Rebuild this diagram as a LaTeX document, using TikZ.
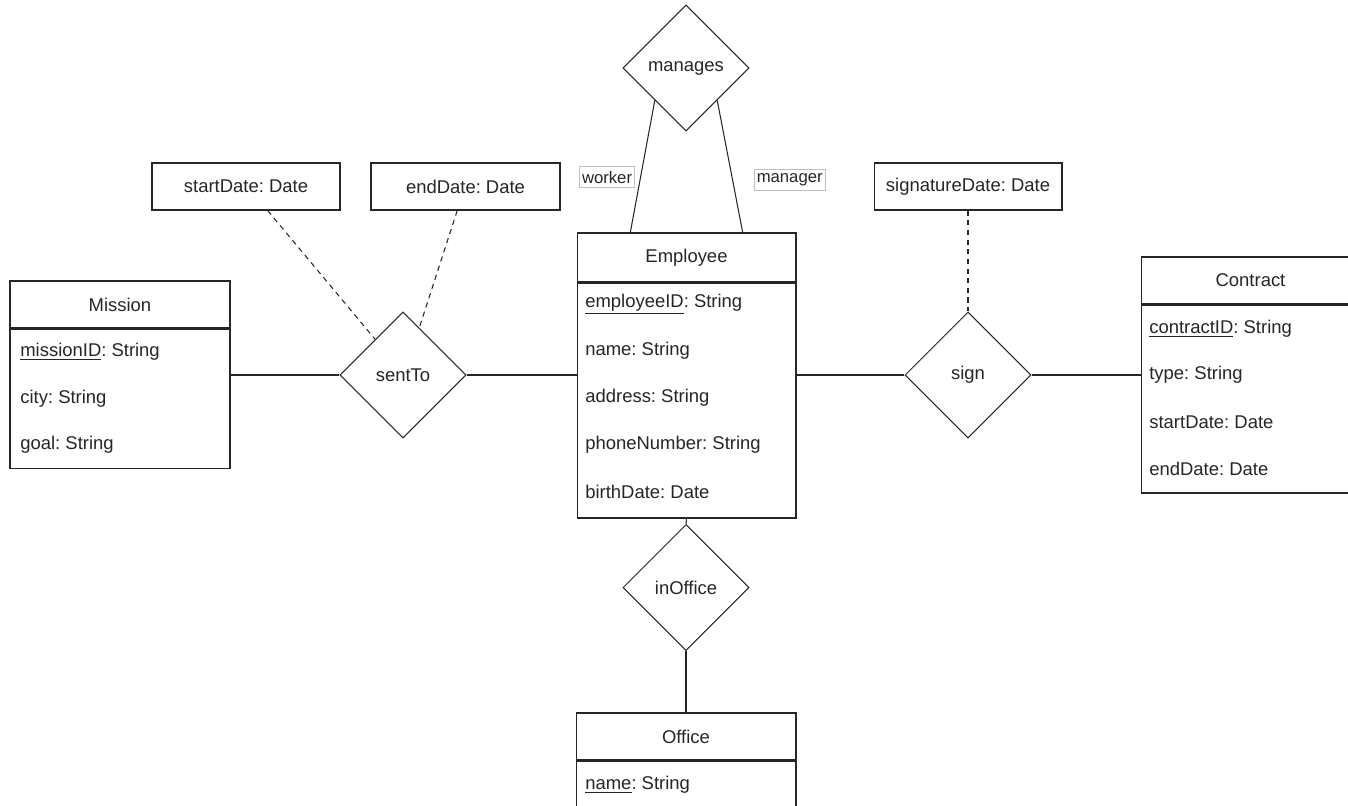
\documentclass[tikz,border=0pt]{standalone}
\usepackage{fontspec}
\setmainfont{Liberation Sans}
\frenchspacing
\usetikzlibrary{positioning,shapes.geometric}

\tikzset{
	erbox/.style={draw=black!85, fill=white, line width=0.6pt, inner sep=0pt, text=black!85, font=\fontsize{10.5}{12.6}\selectfont},
	relation/.style={draw=black!85, diamond, aspect=1, fill=white, line width=0.6pt, inner sep=0pt, minimum width=2.52cm, minimum height=2.52cm, text=black!85, font=\fontsize{10.5}{12.6}\selectfont},
	attr/.style={anchor=west, inner sep=0pt, text=black!85, font=\fontsize{10.5}{12.6}\selectfont},
	rolelabel/.style={draw=black!25, fill=white, inner sep=1.5pt, minimum height=0.42cm, text=black!85, font=\fontsize{9.5}{11}\selectfont},
	wire/.style={draw=black!85, line width=0.6pt},
	attrlink/.style={draw=black!85, line width=0.6pt, dash pattern=on 3pt off 2.5pt},
}

\begin{document}
\begin{tikzpicture}[x=0.02cm, y=-0.02cm]
		\useasboundingbox (0, 0) rectangle (1348, 805);
		% Entities, relations and links:
		\node[erbox, minimum width=4.4cm, minimum height=0.94cm] (missionHead) at (120, 304.5) {Mission};
		\node[erbox, minimum width=4.4cm, minimum height=2.78cm, below=0pt of missionHead] (missionBody) {};
		\node[attr] (missionId) at (20, 352) {\underline{missionID}: String};
		\node[attr] (missionCity) at (20, 399) {city: String};
		\node[attr] (missionGoal) at (20, 445) {goal: String};
		\node[erbox, minimum width=4.38cm, minimum height=0.98cm] (empHead) at (686.5, 257.5) {Employee};
		\node[erbox, minimum width=4.38cm, minimum height=4.7cm, below=0pt of empHead] (empBody) {};
		\node[attr] (empId) at (585, 304) {\underline{employeeID}: String};
		\node[attr] (empName) at (585, 351) {name: String};
		\node[attr] (empAddress) at (585, 398) {address: String};
		\node[attr] (empPhone) at (585, 445) {phoneNumber: String};
		\node[attr] (empBirth) at (585, 492) {birthDate: Date};
		\node[erbox, minimum width=4.38cm, minimum height=0.94cm] (contractHead) at (1250.5, 280.5) {Contract};
		\node[erbox, minimum width=4.38cm, minimum height=3.76cm, below=0pt of contractHead] (contractBody) {};
		\node[attr] (contractId) at (1149, 329) {\underline{contractID}: String};
		\node[attr] (contractType) at (1149, 375) {type: String};
		\node[attr] (contractStart) at (1149, 422) {startDate: Date};
		\node[attr] (contractEnd) at (1149, 469) {endDate: Date};
		\node[erbox, minimum width=4.4cm, minimum height=0.94cm] (officeHead) at (686, 736.5) {Office};
		\node[erbox, minimum width=4.4cm, minimum height=2.4cm, below=0pt of officeHead] (officeBody) {};
		\node[attr] (officeName) at (585, 785) {\underline{name}: String};
		\node[erbox, minimum width=3.76cm, minimum height=0.94cm] (startDate) at (246, 186.5) {startDate: Date};
		\node[erbox, minimum width=3.78cm, minimum height=0.94cm] (endDate) at (465.5, 186.5) {endDate: Date};
		\node[erbox, minimum width=3.76cm, minimum height=0.94cm] (signatureDate) at (968, 186.5) {signatureDate: Date};
		\node[relation] (sentTo) at (403, 375) {sentTo};
		\node[relation] (manages) at (686, 68) {manages};
		\node[relation] (sign) at (968, 375) {sign};
		\node[relation] (inOffice) at (686, 587.5) {inOffice};
		\draw[wire] (sentTo.west) -- (sentTo.west -| missionBody.east);
		\draw[wire] (sentTo.east) -- (sentTo.east -| empBody.west);
		\draw[wire] (sign.west) -- (sign.west -| empBody.east);
		\draw[wire] (sign.east) -- (sign.east -| contractBody.west);
		\draw[wire] (empBody.south) -- (inOffice.north);
		\draw[wire] (inOffice.south) -- (officeHead.north);
		\draw[wire] (manages.-134) -- node[rolelabel, pos=0.583, left=3pt] (worker) {worker} (empHead.156);
		\draw[wire] (manages.-46) -- node[rolelabel, pos=0.6, right=12pt] (manager) {manager} (empHead.24.6);
		\draw[attrlink] (startDate.-48) -- (sentTo.128);
		\draw[attrlink] (endDate.-109) -- (sentTo.71);
		\draw[attrlink] (signatureDate.south) -- (sign.north);
	\end{tikzpicture}
\end{document}
